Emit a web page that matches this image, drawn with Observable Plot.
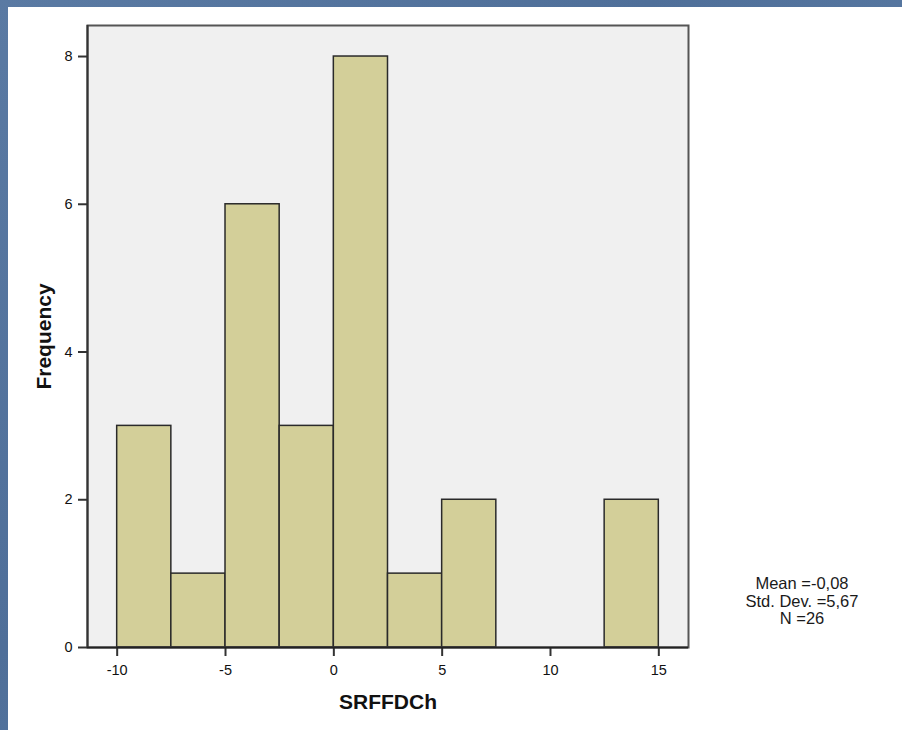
<!DOCTYPE html>
<html>
<head>
<meta charset="utf-8">
<script src="https://cdn.jsdelivr.net/npm/d3@7"></script>
<script src="https://cdn.jsdelivr.net/npm/@observablehq/plot@0.6"></script>
<style>
  html, body { margin: 0; padding: 0; }
  body { width: 902px; height: 730px; overflow: hidden; position: relative;
         background: linear-gradient(135deg, #5a7aa3 0%, #4f6f99 40%, #5b7ca5 70%, #4d6d96 100%);
         font-family: Arial, "Liberation Sans", sans-serif; }
  #paper { position: absolute; left: 8px; top: 7px; right: 0; bottom: 0; background: #ffffff; }
  #chart { position: absolute; left: 0; top: 0; }
  #chart svg { background: transparent; overflow: visible; }
  #chart g[aria-label="x-axis label"] text, #chart g[aria-label="y-axis label"] text { font-weight: bold; font-size: 21px; fill: #111; }
  #chart g[aria-label="x-axis tick label"] text, #chart g[aria-label="y-axis tick label"] text { font-size: 14.5px; fill: #111; }
  #stats { position: absolute; left: 732px; top: 575px; width: 140px; text-align: center;
           font-family: Arial, "Liberation Sans", sans-serif; font-size: 16.5px; line-height: 17.5px; color: #1a1a1a; }
</style>
</head>
<body>
<div id="paper"></div>
<div id="chart"></div>
<div id="stats"></div>
<script>
const binStart = [-10, -7.5, -5, -2.5, 0, 2.5, 5, 7.5, 10, 12.5];
const binWidth = 2.5;
const counts = [3, 1, 6, 3, 8, 1, 2, 0, 0, 2];
const xTicks = [-10, -5, 0, 5, 10, 15];
const yTicks = [0, 2, 4, 6, 8];
const xLabel = "SRFFDCh";
const yLabel = "Frequency";
const statsLines = ["Mean =-0,08", "Std. Dev. =5,67", "N =26"];

const bins = binStart.map((s, i) => ({x1: s, x2: s + binWidth, y: counts[i]})).filter(d => d.y > 0);

const chart = Plot.plot({
  width: 902,
  height: 730,
  marginLeft: 87,
  marginRight: 214,
  marginTop: 25,
  marginBottom: 83,
  style: {background: "transparent", fontFamily: "Arial, 'Liberation Sans', sans-serif"},
  x: {domain: [-11.37, 16.37]},
  y: {domain: [0, 8.42]},
  marks: [
    Plot.frame({fill: "#f0f0f0", stroke: null}),
    Plot.rectY(bins, {x1: "x1", x2: "x2", y: "y", fill: "#d3cf99", stroke: "#2a2a2a", strokeWidth: 1.5, inset: 0}),
    Plot.frame({stroke: "#555", strokeWidth: 2}),
    Plot.axisX({ticks: xTicks, tickFormat: d => String(d), tickSize: 9, tickPadding: 8, stroke: "#333", strokeWidth: 2,
      label: xLabel, labelAnchor: "center", labelArrow: "none", labelOffset: 61}),
    Plot.axisY({ticks: yTicks, tickFormat: d => String(d), tickSize: 9, tickPadding: 6, stroke: "#333", strokeWidth: 2,
      label: yLabel, labelAnchor: "center", labelArrow: "none", labelOffset: 51}),
    Plot.ruleY([0], {stroke: "#222", strokeWidth: 2}),
    Plot.ruleX([-11.37], {stroke: "#333", strokeWidth: 2})
  ]
});
document.getElementById("chart").appendChild(chart);
document.getElementById("stats").innerHTML = statsLines.map(s => `<div>${s}</div>`).join("");
</script>
</body>
</html>
